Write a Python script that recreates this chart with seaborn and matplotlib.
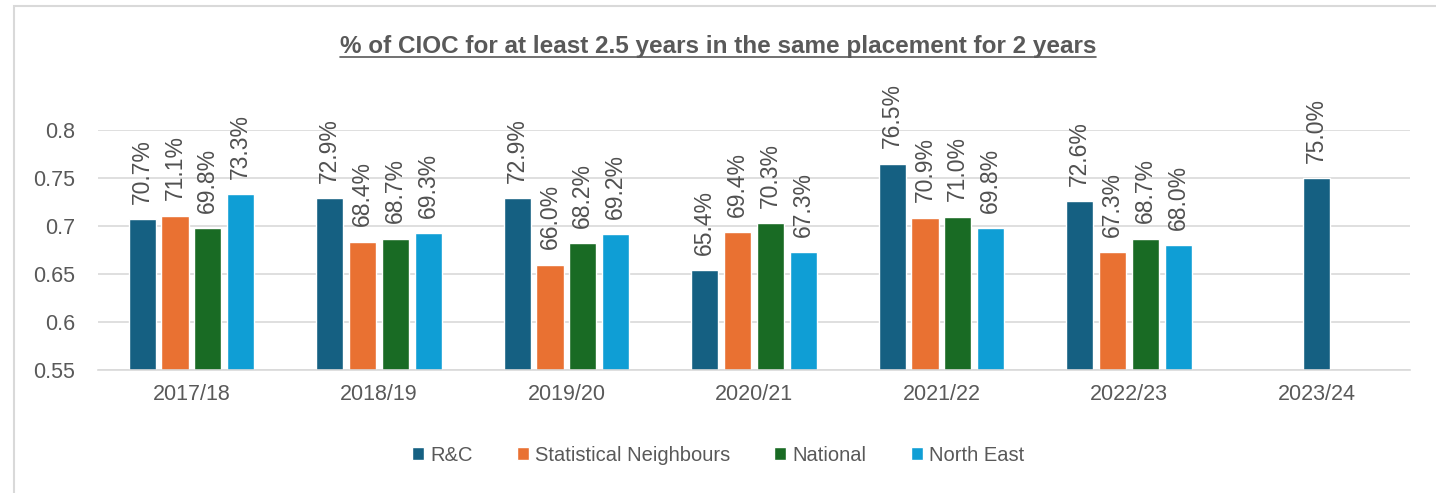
import numpy as np
import pandas as pd
import seaborn as sns
import matplotlib.pyplot as plt
from matplotlib.lines import Line2D
from matplotlib.patches import Rectangle

# Data
years = ["2017/18", "2018/19", "2019/20", "2020/21", "2021/22", "2022/23", "2023/24"]
series = ["R&C", "Statistical Neighbours", "National", "North East"]
rc = [0.707, 0.729, 0.729, 0.654, 0.765, 0.726, 0.750]
stat_neigh = [0.711, 0.684, 0.660, 0.694, 0.709, 0.673, np.nan]
national = [0.698, 0.687, 0.682, 0.703, 0.710, 0.687, np.nan]
north_east = [0.733, 0.693, 0.692, 0.673, 0.698, 0.680, np.nan]
colors = ["#156082", "#E97132", "#196B24", "#0F9ED5"]

df = pd.DataFrame({"year": years, "R&C": rc, "Statistical Neighbours": stat_neigh,
                   "National": national, "North East": north_east})
long = df.melt(id_vars="year", var_name="series", value_name="value")
grouped = long[long["year"] != "2023/24"]
lone = long[(long["year"] == "2023/24") & (long["series"] == "R&C")]

sns.set_style("white")
plt.rcParams['font.family'] = ['Liberation Sans', 'DejaVu Sans']
grey = "#595959"

fig = plt.figure(figsize=(14.36, 4.93), dpi=100)
ax = fig.add_axes([0.068, 0.249, 0.914, 0.487])

sns.barplot(data=grouped, x="year", y="value", hue="series", order=years,
            hue_order=series, palette=colors, width=0.7, gap=0.17,
            saturation=1, ax=ax, legend=True)
# 2023/24 only has the R&C value, Excel centres it in the category
sns.barplot(data=lone, x="year", y="value", order=years, color=colors[0],
            width=0.145, saturation=1, ax=ax)

# data labels
for cont in ax.containers:
    for bar in cont:
        h = bar.get_height()
        if np.isnan(h):
            continue
        ax.annotate(f"{h*100:.1f}%", (bar.get_x() + bar.get_width() / 2, h),
                    xytext=(0, 11), textcoords="offset points", rotation=90,
                    ha="center", va="bottom", fontsize=16.5, color="#505050",
                    annotation_clip=False)

ax.set_ylim(0.55, 0.8)
ax.set_yticks([0.55, 0.6, 0.65, 0.7, 0.75, 0.8])
ax.set_yticklabels(["0.55", "0.6", "0.65", "0.7", "0.75", "0.8"])
ax.set_xlim(-0.5, 6.5)
ax.yaxis.grid(True, color="#D9D9D9", linewidth=1.2)
ax.set_axisbelow(True)
for s in ["top", "right", "left"]:
    ax.spines[s].set_visible(False)
ax.spines["bottom"].set_color("#D9D9D9")
ax.spines["bottom"].set_linewidth(1.2)
ax.tick_params(axis="both", length=0, labelsize=15.5, labelcolor=grey)
ax.tick_params(axis="x", pad=10)
ax.tick_params(axis="y", pad=16)
ax.set_xlabel("")
ax.set_ylabel("")

# legend at the bottom
handles, labels = ax.get_legend_handles_labels()
ax.legend(handles[:4], labels[:4], loc="center", ncol=4, frameon=False,
          prop={"size": 14.5}, labelcolor=grey, handlelength=0.6,
          handleheight=0.6, handletextpad=0.3, columnspacing=2.2)
leg = ax.get_legend()
leg.set_bbox_to_anchor((0.5, 0.077), transform=fig.transFigure)

# underlined title
title = fig.text(0.5, 0.905, "% of CIOC for at least 2.5 years in the same placement for 2 years",
                 ha="center", va="center", fontsize=17.5, fontweight="bold", color=grey)
fig.canvas.draw()
bb = title.get_window_extent().transformed(fig.transFigure.inverted())
fig.add_artist(Line2D([bb.x0, bb.x1], [bb.y0 + 0.002, bb.y0 + 0.002],
                      transform=fig.transFigure, color=grey, linewidth=1.2))

# chart border (only top and left edges are inside the crop)
fig.add_artist(Rectangle((0.0095, -0.05), 1.1, 1.038, transform=fig.transFigure,
                         fill=False, edgecolor="#D9D9D9", linewidth=1.5))

fig.savefig("out.png", dpi=100)
